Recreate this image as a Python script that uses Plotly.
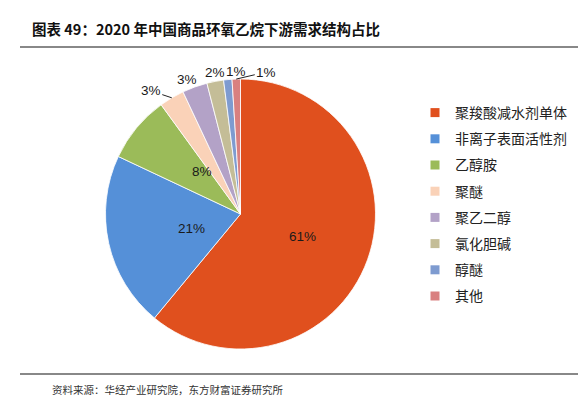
import math
import plotly.graph_objects as go

labels = ["聚羧酸减水剂单体", "非离子表面活性剂", "乙醇胺", "聚醚", "聚乙二醇", "氯化胆碱", "醇醚", "其他"]
values = [61, 21, 8, 3, 3, 2, 1, 1]
colors = ["#E0501E", "#5590D8", "#9BBB59", "#FAD2B8", "#B3A2C7", "#C4BD97", "#7E9BD0", "#D98080"]

# layout / label styling (pixel offsets for outside labels; None = inside label)
W, H = 586, 396
cx_px, cy_px, R_px = 232.5, 206, 135
label_offsets = [None, None, None, (-21, -7), (-8, -7), (0, -9), (8, -8), (30, -7)]
leader = [False, False, False, True, False, False, False, True]

cx, cy = cx_px / W, 1 - cy_px / H
rx, ry = R_px / W, R_px / H

fig = go.Figure()
fig.add_trace(go.Pie(
    labels=labels, values=values, sort=False, direction="clockwise", rotation=0,
    marker=dict(colors=colors, line=dict(color="white", width=0.8)),
    textinfo="none", showlegend=False,
    domain=dict(x=[cx - rx, cx + rx], y=[cy - ry, cy + ry]),
    hoverinfo="label+value",
))

# legend entries (one group each so spacing can be set)
for lab, col in zip(labels, colors):
    fig.add_trace(go.Scatter(x=[None], y=[None], mode="markers", name=lab,
                             legendgroup=lab,
                             marker=dict(symbol="square", size=9, color=col)))

annotations = []
total = sum(values)
cum = 0
for v, off, ld in zip(values, label_offsets, leader):
    mid = (cum + v / 2) / total * 2 * math.pi
    cum += v
    s, c = math.sin(mid), math.cos(mid)
    txt = f"{v}%"
    font = dict(family="Liberation Sans, Arial", size=13.5, color="#1a1a1a")
    if off is None:
        annotations.append(dict(text=txt, x=cx + 0.49 * rx * s, y=cy + 0.49 * ry * c,
                                xref="paper", yref="paper", showarrow=False, font=font))
    else:
        annotations.append(dict(text=txt, x=cx + rx * s, y=cy + ry * c,
                                xref="paper", yref="paper", showarrow=True,
                                ax=off[0], ay=off[1], arrowhead=0, arrowwidth=1,
                                arrowcolor="#222" if ld else "rgba(0,0,0,0)",
                                standoff=0, startstandoff=0, font=font))

annotations += [
    dict(text="<b>图表 49：2020 年中国商品环氧乙烷下游需求结构占比</b>", x=22 / W, y=1 - 21 / H,
         xref="paper", yref="paper", xanchor="left", yanchor="middle", showarrow=False,
         font=dict(family="Noto Sans CJK SC", size=14.5, color="#111")),
    dict(text="资料来源：华经产业研究院，东方财富证券研究所", x=42 / W, y=1 - 381 / H,
         xref="paper", yref="paper", xanchor="left", yanchor="middle", showarrow=False,
         font=dict(family="Noto Sans CJK SC", size=10.5, color="#333")),
]

fig.update_layout(
    width=W, height=H, margin=dict(l=0, r=0, t=0, b=0),
    paper_bgcolor="white", plot_bgcolor="white",
    xaxis=dict(visible=False), yaxis=dict(visible=False),
    font=dict(family="Noto Sans CJK SC", color="#222"),
    legend=dict(x=407 / W, y=1 - 89 / H, xanchor="left", yanchor="top",
                font=dict(family="Noto Sans CJK SC", size=14, color="#222"),
                tracegroupgap=5, itemwidth=30,
                bgcolor="rgba(0,0,0,0)"),
    annotations=annotations,
    shapes=[
        dict(type="line", xref="paper", yref="paper", x0=12 / W, x1=1, y0=1 - 39 / H, y1=1 - 39 / H,
             line=dict(color="#888", width=2)),
        dict(type="line", xref="paper", yref="paper", x0=12 / W, x1=1, y0=1 - 366 / H, y1=1 - 366 / H,
             line=dict(color="#888", width=2)),
    ],
)
fig.write_html("out.html")
